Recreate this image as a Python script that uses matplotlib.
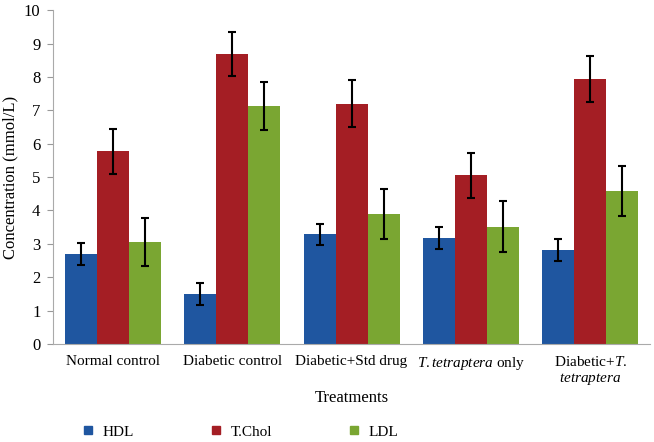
import numpy as np
import matplotlib
matplotlib.use("Agg")
import matplotlib.pyplot as plt
from matplotlib.lines import Line2D

plt.rcParams['font.family'] = ['Liberation Serif', 'DejaVu Serif']
plt.rcParams['mathtext.fontset'] = 'custom'
plt.rcParams['mathtext.rm'] = 'Liberation Serif'
plt.rcParams['mathtext.it'] = 'Liberation Serif:italic'

# data
groups = ['Normal control', 'Diabetic control', 'Diabetic+Std drug',
          r'$\mathit{T.tetraptera}$ only', 'Diabetic+$\\mathit{T.}$\n$\\mathit{tetraptera}$']
series = ['HDL', 'T.Chol', 'LDL']
hdl = [2.70, 1.50, 3.28, 3.17, 2.81]
tchol = [5.77, 8.69, 7.20, 5.05, 7.94]
ldl = [3.05, 7.13, 3.90, 3.51, 4.59]
hdl_err = [0.33, 0.33, 0.32, 0.33, 0.32]
tchol_err = [0.67, 0.67, 0.70, 0.67, 0.68]
ldl_err = [0.72, 0.73, 0.75, 0.76, 0.75]
colors = ['#1f56a0', '#a41e24', '#7aa632']

vals = [hdl, tchol, ldl]
errs = [hdl_err, tchol_err, ldl_err]

fig = plt.figure(figsize=(6.54, 4.42), dpi=100)
ax = fig.add_axes([0.081, 0.222, 0.913, 0.755])

x = np.arange(len(groups))
w = 0.268
for i in range(3):
    ax.bar(x + (i - 1) * w, vals[i], w, color=colors[i], label=series[i],
           yerr=errs[i], error_kw=dict(ecolor='black', elinewidth=1.5, capsize=3, capthick=1.5))

ax.set_xlim(-0.5, 4.5)
ax.set_ylim(0, 10)
ax.set_yticks(range(0, 11))
ax.set_xticks(x)
ax.set_xticklabels(groups, fontsize=11)
ax.tick_params(axis='x', length=0, pad=8)
ax.tick_params(axis='y', labelsize=12, length=4, color='#999999', pad=5)
for s in ['top', 'right']:
    ax.spines[s].set_visible(False)
ax.spines['left'].set_color('#aaaaaa')
ax.spines['bottom'].set_color('#aaaaaa')
ax.set_ylabel('Concentration (mmol/L)', fontsize=12, labelpad=4)
ax.set_xlabel('Treatments', fontsize=12, labelpad=2)

handles = [Line2D([], [], marker='s', linestyle='none', markersize=6,
                  markerfacecolor=c, markeredgecolor=c) for c in colors]
fig.legend(handles, series, loc='center left', bbox_to_anchor=(0.106, 0.023),
           ncol=3, frameon=False, fontsize=11, handlelength=0.7,
           handletextpad=0.6, columnspacing=5.0)

fig.savefig('out.png', dpi=100)
